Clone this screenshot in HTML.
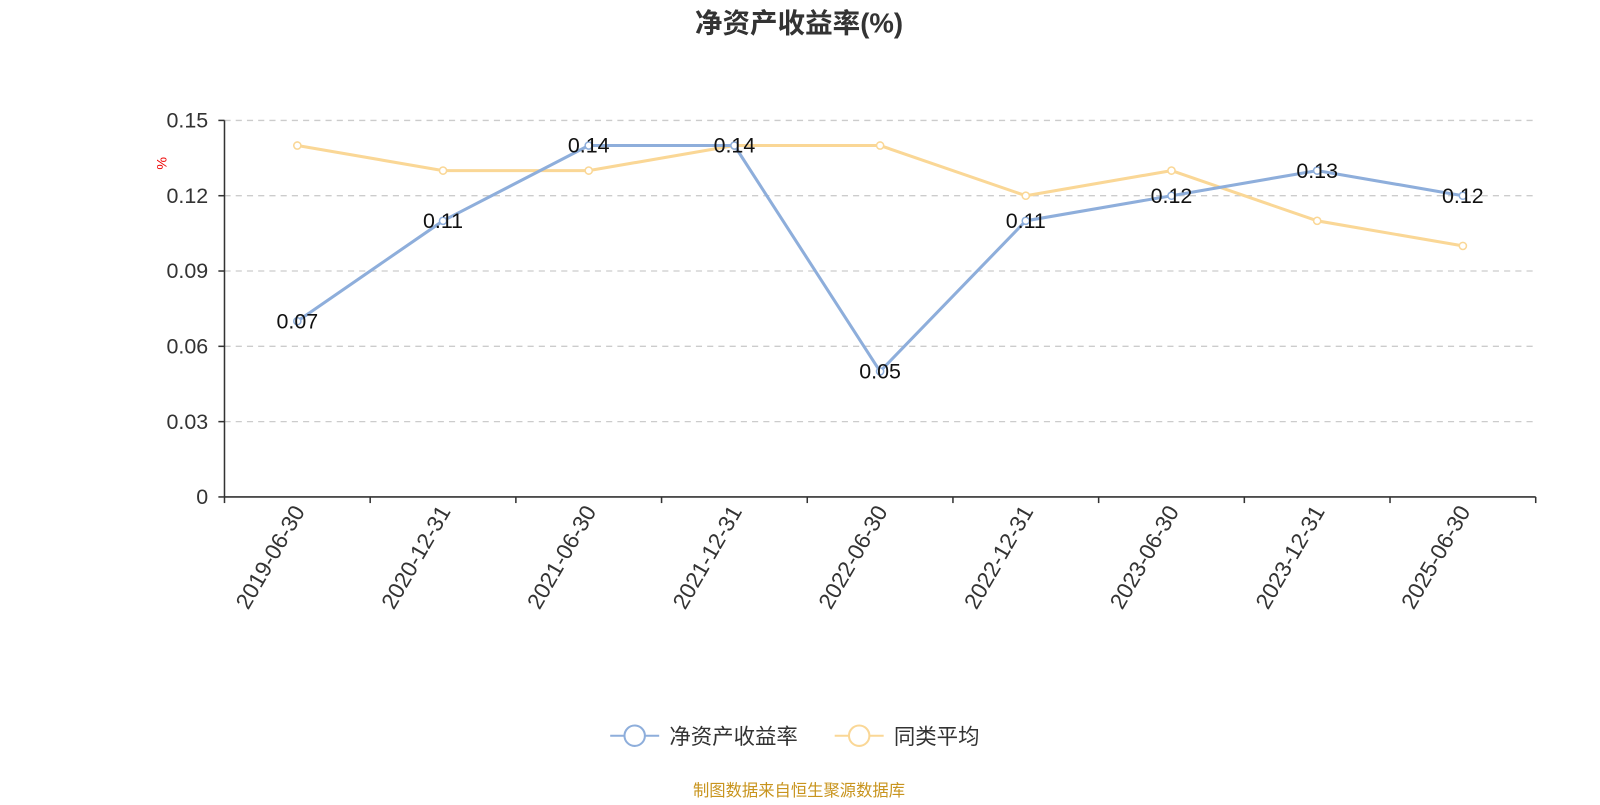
<!DOCTYPE html>
<html><head><meta charset="utf-8">
<style>
html,body{margin:0;padding:0;background:#fff;}
svg text{font-family:"Liberation Sans","Noto Sans CJK SC",sans-serif;}
</style></head>
<body>
<svg id="chart" width="1600" height="800" viewBox="0 0 1568 784" xmlns="http://www.w3.org/2000/svg">
<text x="783" y="32" text-anchor="middle" font-size="27" font-weight="bold" fill="#333">净资产收益率(%)</text>
<text x="163" y="160" font-size="14" fill="#e00" transform="rotate(-90 163 160)" text-anchor="middle">%</text>
<g id="grid"></g>
<g id="axes"></g>
<g id="series"></g>
<g>
 <g>
  <line x1="598" y1="721" x2="646" y2="721" stroke="#8eaedb" stroke-width="2"/>
  <circle cx="622" cy="721" r="10" fill="#fff" stroke="#8eaedb" stroke-width="2"/>
  <text x="656" y="729" font-size="21" fill="#333">净资产收益率</text>
 </g>
 <g>
  <line x1="818" y1="721" x2="866" y2="721" stroke="#fad796" stroke-width="2"/>
  <circle cx="842" cy="721" r="10" fill="#fff" stroke="#fad796" stroke-width="2"/>
  <text x="876" y="729" font-size="21" fill="#333">同类平均</text>
 </g>
</g>
<text x="783" y="780" text-anchor="middle" font-size="16" fill="#c8941e">制图数据来自恒生聚源数据库</text>
</svg>
<script>
const categories=["2019-06-30","2020-12-31","2021-06-30","2021-12-31","2022-06-30","2022-12-31","2023-06-30","2023-12-31","2025-06-30"];
const roeValues=[0.07,0.11,0.14,0.14,0.05,0.11,0.12,0.13,0.12];
const avgValues=[0.14,0.13,0.13,0.14,0.14,0.12,0.13,0.11,0.10];
const yTicks=[0,0.03,0.06,0.09,0.12,0.15];
const yTickLabels=["0","0.03","0.06","0.09","0.12","0.15"];

const NS="http://www.w3.org/2000/svg";
const X0=220,X1=1505,Y0=487,Y1=118,YMAX=0.15;
const bw=(X1-X0)/categories.length;
const xs=i=>X0+bw*(i+0.5);
const ys=v=>Y0-(v/YMAX)*(Y0-Y1);
function mk(tag,attrs,parent){const e=document.createElementNS(NS,tag);for(const k in attrs)e.setAttribute(k,attrs[k]);parent.appendChild(e);return e;}
const grid=document.getElementById('grid'),axes=document.getElementById('axes'),series=document.getElementById('series');

yTicks.forEach((t,i)=>{
  const y=ys(t);
  if(t>0){const g=mk('line',{x1:X0,x2:X1,y1:y,y2:y,stroke:'#ccc','stroke-width':1.3,'stroke-dasharray':'6,5'},grid);
  
  }
  const tk=mk('line',{x1:X0-6,x2:X0,y1:y,y2:y,stroke:'#333','stroke-width':1.5},axes);
  
  
  const lb=mk('text',{x:X0-16,y:y+7,'text-anchor':'end','font-size':21,fill:'#333'},axes);
  lb.textContent=yTickLabels[i];
  
  
});
const ya=mk('line',{x1:X0,x2:X0,y1:Y1,y2:Y0,stroke:'#333','stroke-width':1.5},axes);


const xa=mk('line',{x1:X0,x2:X1,y1:Y0,y2:Y0,stroke:'#333','stroke-width':1.5},axes);


for(let i=0;i<=categories.length;i++){
  const x=X0+bw*i;
  const t=mk('line',{x1:x,x2:x,y1:Y0,y2:Y0+6,stroke:'#333','stroke-width':1.5},axes);
  
  
}
categories.forEach((c,i)=>{
  const x=xs(i)+8,y=Y0+14;
  const lb=mk('text',{x:x,y:y,'text-anchor':'end','font-size':22,fill:'#333',transform:`rotate(-60 ${x} ${y})`},axes);
  lb.textContent=c;
  
  
});

function drawSeries(vals,color,name){
  const pts=vals.map((v,i)=>xs(i)+','+ys(v)).join(' ');
  const pl=mk('polyline',{points:pts,fill:'none',stroke:color,'stroke-width':3,'stroke-linejoin':'round'},series);
  
  
  vals.forEach((v,i)=>{
    const c=mk('circle',{cx:xs(i),cy:ys(v),r:3.5,fill:'#fff',stroke:color,'stroke-width':1.5},series);
    
    
  });
}
drawSeries(avgValues,'#fad796','peer-average');
drawSeries(roeValues,'#8eaedb','roe');
roeValues.forEach((v,i)=>{
  const t=mk('text',{x:xs(i),y:ys(v)+7,'text-anchor':'middle','font-size':21,fill:'#111'},series);
  t.textContent=v.toFixed(2);
  
  
});
</script>
</body></html>
